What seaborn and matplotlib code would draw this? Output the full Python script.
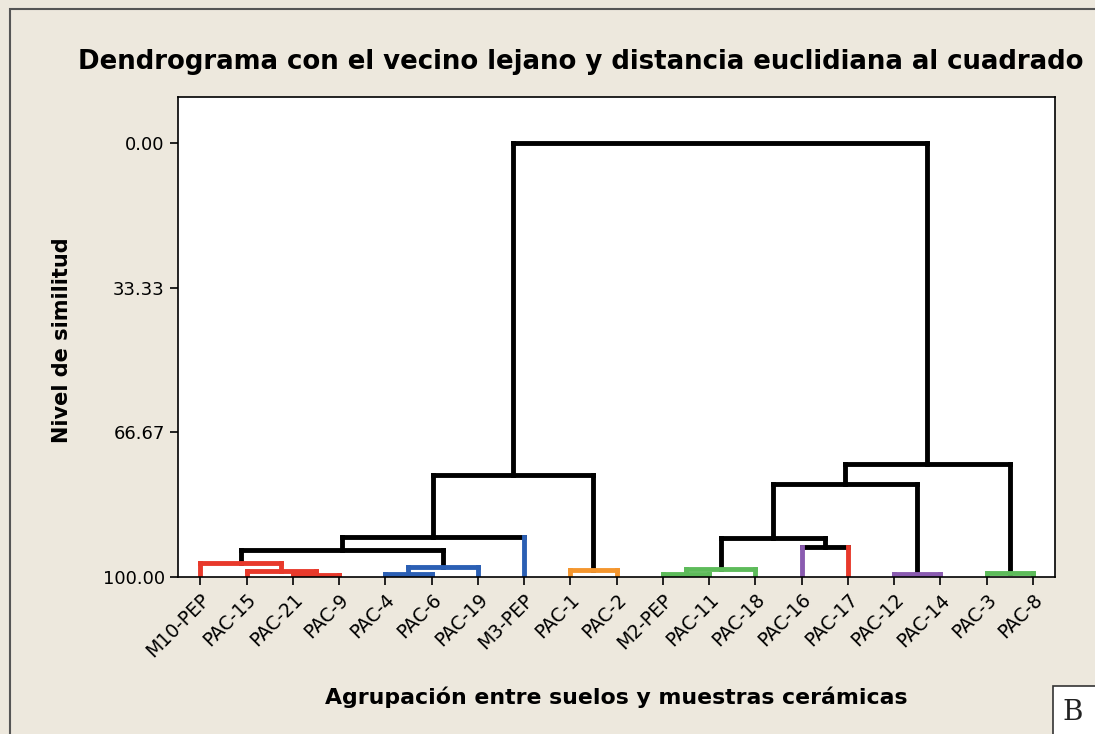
import pandas as pd
import seaborn as sns
import matplotlib.pyplot as plt
from matplotlib.patches import Rectangle

# Leaves in dendrogram order
leaves = ["M10-PEP", "PAC-15", "PAC-21", "PAC-9", "PAC-4", "PAC-6", "PAC-19", "M3-PEP",
          "PAC-1", "PAC-2", "M2-PEP", "PAC-11", "PAC-18", "PAC-16", "PAC-17",
          "PAC-12", "PAC-14", "PAC-3", "PAC-8"]

# Merges (child a, child b, similarity level); new node ids start at len(leaves)
merge_a = [2, 1, 0, 4, 22, 21, 24, 8, 25, 10, 28, 13, 29, 15, 31, 17, 33, 27]
merge_b = [3, 19, 20, 5, 6, 23, 7, 9, 26, 11, 12, 14, 30, 16, 32, 18, 34, 35]
merge_level = [99.5, 98.6, 96.7, 99.4, 97.8, 93.7, 90.7, 98.3, 76.6,
               99.3, 98.1, 93.2, 90.9, 99.2, 78.5, 99.0, 73.9, 0.0]

# Final clusters and their colours
cluster_nodes = [21, 23, 7, 26, 29, 13, 14, 32, 34]
cluster_colors = ["#e8392b", "#2b5fb4", "#2b5fb4", "#f4962e", "#5dbb5a",
                  "#8a5bb0", "#e8392b", "#8a5bb0", "#5dbb5a"]

y_ticks = [0.0, 33.33, 66.67, 100.0]
y_ticklabels = ["0.00", "33.33", "66.67", "100.00"]

n = len(leaves)
xpos = {i: float(i) for i in range(n)}
hgt = {i: 100.0 for i in range(n)}
for k, (a, b, lv) in enumerate(zip(merge_a, merge_b, merge_level)):
    xpos[n + k] = (xpos[a] + xpos[b]) / 2
    hgt[n + k] = lv

# propagate cluster colours down to descendants
node_color = {}
children = {n + k: (a, b) for k, (a, b) in enumerate(zip(merge_a, merge_b))}
def paint(node, col):
    node_color[node] = col
    if node in children:
        for c in children[node]:
            paint(c, col)
for node, col in zip(cluster_nodes, cluster_colors):
    paint(node, col)

rows = []
seg = 0
def add(x0, y0, x1, y1, col):
    global seg
    rows.append((seg, x0, y0, col))
    rows.append((seg, x1, y1, col))
    seg += 1

for k, (a, b, lv) in enumerate(zip(merge_a, merge_b, merge_level)):
    node = n + k
    if node in node_color:
        col = node_color[node]
        ca = cb = col
    else:
        col = "black"
        ca = node_color[a] if (a < n and a in node_color) else "black"
        cb = node_color[b] if (b < n and b in node_color) else "black"
    add(xpos[a], hgt[a], xpos[a], lv, ca)
    add(xpos[b], hgt[b], xpos[b], lv, cb)
    add(xpos[a], lv, xpos[b], lv, col)

df = pd.DataFrame(rows, columns=["seg", "x", "y", "color"])
df["is_black"] = df["color"] == "black"

sns.set_style("ticks")
plt.rcParams['font.family'] = ['DejaVu Sans']
plt.rcParams['text.color'] = 'black'
plt.rcParams['xtick.color'] = 'black'
plt.rcParams['ytick.color'] = 'black'

bg = "#ede8dd"
fig = plt.figure(figsize=(10.95, 7.34), dpi=100, facecolor=bg)
ax = fig.add_axes([0.1626, 0.2139, 0.8009, 0.6539])
ax.set_facecolor("white")

palette = {c: c for c in df["color"].unique()}
for black in [True, False]:
    sub = df[df["is_black"] == black]
    sns.lineplot(data=sub, x="x", y="y", units="seg", hue="color", palette=palette,
                 estimator=None, sort=False, legend=False, linewidth=3.5,
                 solid_capstyle="projecting", ax=ax)

ax.set_xlim(-0.48, n - 1 + 0.48)
ax.set_ylim(100, -10.6)
ax.set_yticks(y_ticks)
ax.set_yticklabels(y_ticklabels, fontsize=13)
ax.set_xticks(range(n))
ax.set_xticklabels(leaves, rotation=45, ha="right", rotation_mode="anchor", fontsize=13.5)
ax.tick_params(axis="both", direction="out", length=6, width=1.2, color="black",
               labelcolor="black")
for s in ax.spines.values():
    s.set_visible(True)
    s.set_color("black")
    s.set_linewidth(1.2)
ax.set_xlabel("")
ax.set_ylabel("")

fig.text(0.53, 0.9155, "Dendrograma con el vecino lejano y distancia euclidiana al cuadrado",
         ha="center", va="center", fontsize=18.7, fontweight="bold", color="black")
fig.text(0.057, 0.537, "Nivel de similitud", rotation=90, ha="center", va="center",
         fontsize=15, fontweight="bold", color="black")
fig.text(0.5626, 0.050, "Agrupación entre suelos y muestras cerámicas", ha="center",
         va="center", fontsize=15.8, fontweight="bold", color="black")

# outer frame and panel letter box
fig.patches.append(Rectangle((10 / 1095, -0.1), 1.2, 1 - 9 / 734 + 0.1, transform=fig.transFigure,
                             fill=False, edgecolor="#555555", linewidth=1.5))
fig.patches.append(Rectangle((1053 / 1095, -0.1), 0.2, 0.1 + 1 - 686 / 734, transform=fig.transFigure,
                             facecolor="white", edgecolor="#333333", linewidth=1.2))
fig.text(1062 / 1095, 1 - 712 / 734, "B", ha="left", va="center", fontsize=20,
         family="DejaVu Serif", color="#222222")

fig.savefig("out.png", dpi=100, facecolor=bg)
